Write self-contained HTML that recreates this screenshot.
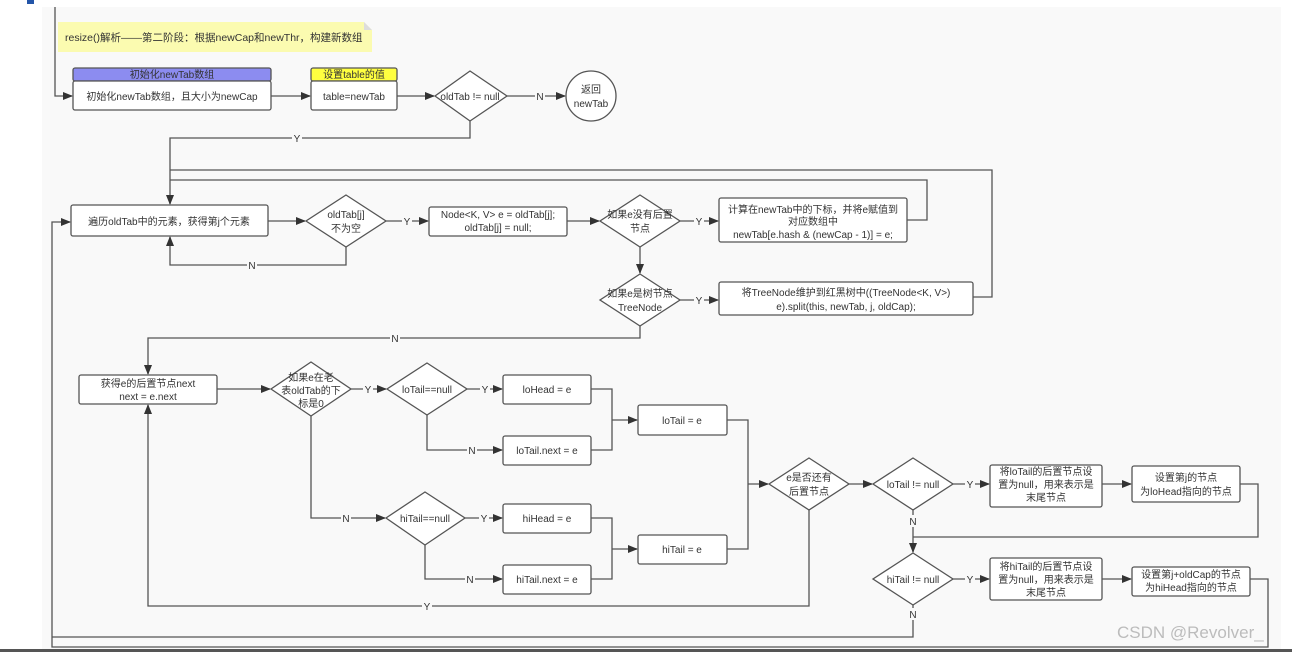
<!DOCTYPE html>
<html><head><meta charset="utf-8"><style>
html,body{margin:0;padding:0;background:#fff;width:1292px;height:652px;overflow:hidden}
svg{display:block}
text{font-family:"Liberation Sans","Noto Sans CJK SC",sans-serif;font-size:10px;fill:#333}
</style></head><body>
<svg width="1292" height="652" viewBox="0 0 1292 652" xmlns="http://www.w3.org/2000/svg">
<defs><marker id="a" markerWidth="10" markerHeight="8" refX="9" refY="4" orient="auto" markerUnits="userSpaceOnUse"><path d="M0,0 L10,4 L0,8 z" fill="#333"/></marker></defs>
<rect x="0" y="0" width="1292" height="652" fill="#fff"/>
<rect x="42" y="7" width="1239" height="643" fill="#f9f9f9"/>
<rect x="27" y="0" width="7" height="4" fill="#2355a8"/>
<rect x="0" y="649" width="1292" height="3" fill="#555"/>
<g fill="none" stroke="#555" stroke-width="1.3">
<polygon points="58,22 364,22 372,30 372,52 58,52" fill="#fbfbb0" stroke="none"/>
<polygon points="364,22 372,30 364,30" fill="#ddd" stroke="none"/>
<polyline points="55,7 55,96 72,96" marker-end="url(#a)"/>
<rect x="73" y="68" width="198" height="13" fill="#8c8cf0" rx="2"/>
<rect x="73" y="81" width="198" height="29" fill="#fff" rx="2"/>
<line x1="271" y1="96" x2="310" y2="96" marker-end="url(#a)"/>
<rect x="311" y="68" width="86" height="13" fill="#ffff40" rx="2"/>
<rect x="311" y="81" width="86" height="29" fill="#fff" rx="2"/>
<line x1="397" y1="96" x2="434" y2="96" marker-end="url(#a)"/>
<polygon points="470,71 507,96 470,121 435,96" fill="#fff"/>
<line x1="507" y1="96" x2="565" y2="96" marker-end="url(#a)"/>
<circle cx="591" cy="96" r="25" fill="#fff"/>
<polyline points="470,121 470,138 170,138 170,204" marker-end="url(#a)"/>
<polyline points="973,297 992,297 992,170 170,170"/>
<polyline points="907,220 927,220 927,180 170,180"/>
<rect x="71" y="205" width="197" height="31" fill="#fff" rx="2"/>
<line x1="268" y1="221" x2="305" y2="221" marker-end="url(#a)"/>
<polygon points="346,195 386,221 346,247 306,221" fill="#fff"/>
<polyline points="346,247 346,265 170,265 170,237" marker-end="url(#a)"/>
<line x1="386" y1="221" x2="428" y2="221" marker-end="url(#a)"/>
<rect x="429" y="207" width="138" height="29" fill="#fff" rx="2"/>
<line x1="567" y1="221" x2="599" y2="221" marker-end="url(#a)"/>
<polygon points="640,195 680,221 640,247 600,221" fill="#fff"/>
<line x1="680" y1="221" x2="718" y2="221" marker-end="url(#a)"/>
<rect x="719" y="198" width="188" height="44" fill="#fff" rx="2"/>
<line x1="640" y1="247" x2="640" y2="273" marker-end="url(#a)"/>
<polygon points="640,274 680,300 640,326 600,300" fill="#fff"/>
<line x1="680" y1="300" x2="718" y2="300" marker-end="url(#a)"/>
<rect x="719" y="282" width="254" height="33" fill="#fff" rx="2"/>
<polyline points="640,326 640,338 148,338 148,374" marker-end="url(#a)"/>
<rect x="79" y="375" width="138" height="29" fill="#fff" rx="2"/>
<line x1="217" y1="389" x2="270" y2="389" marker-end="url(#a)"/>
<polygon points="311,362 351,389 311,416 271,389" fill="#fff"/>
<line x1="351" y1="389" x2="386" y2="389" marker-end="url(#a)"/>
<polygon points="427,363 467,389 427,415 387,389" fill="#fff"/>
<line x1="467" y1="389" x2="502" y2="389" marker-end="url(#a)"/>
<rect x="503" y="375" width="88" height="29" fill="#fff" rx="2"/>
<polyline points="427,415 427,450 502,450" marker-end="url(#a)"/>
<rect x="503" y="436" width="88" height="29" fill="#fff" rx="2"/>
<polyline points="591,389 612,389 612,450 591,450"/>
<line x1="612" y1="420" x2="637" y2="420" marker-end="url(#a)"/>
<rect x="638" y="405" width="89" height="30" fill="#fff" rx="2"/>
<polyline points="311,416 311,518 385,518" marker-end="url(#a)"/>
<polygon points="425,492 465,518 425,545 386,518" fill="#fff"/>
<line x1="465" y1="518" x2="502" y2="518" marker-end="url(#a)"/>
<rect x="503" y="504" width="88" height="29" fill="#fff" rx="2"/>
<polyline points="425,545 425,579 502,579" marker-end="url(#a)"/>
<rect x="503" y="565" width="88" height="29" fill="#fff" rx="2"/>
<polyline points="591,518 612,518 612,579 591,579"/>
<line x1="612" y1="549" x2="637" y2="549" marker-end="url(#a)"/>
<rect x="638" y="535" width="89" height="29" fill="#fff" rx="2"/>
<polyline points="727,420 748,420 748,549 727,549"/>
<line x1="748" y1="484" x2="768" y2="484" marker-end="url(#a)"/>
<polygon points="809,458 849,484 809,510 769,484" fill="#fff"/>
<polyline points="809,510 809,606 148,606 148,405" marker-end="url(#a)"/>
<line x1="849" y1="484" x2="872" y2="484" marker-end="url(#a)"/>
<polygon points="913,458 953,484 913,510 873,484" fill="#fff"/>
<line x1="953" y1="484" x2="989" y2="484" marker-end="url(#a)"/>
<rect x="990" y="465" width="112" height="42" fill="#fff" rx="2"/>
<line x1="1102" y1="484" x2="1131" y2="484" marker-end="url(#a)"/>
<rect x="1132" y="466" width="108" height="36" fill="#fff" rx="2"/>
<polyline points="1240,484 1258,484 1258,537 913,537"/>
<line x1="913" y1="510" x2="913" y2="552" marker-end="url(#a)"/>
<polygon points="913,553 953,579 913,605 873,579" fill="#fff"/>
<line x1="953" y1="579" x2="989" y2="579" marker-end="url(#a)"/>
<rect x="990" y="558" width="112" height="42" fill="#fff" rx="2"/>
<line x1="1102" y1="579" x2="1131" y2="579" marker-end="url(#a)"/>
<rect x="1132" y="567" width="118" height="29" fill="#fff" rx="2"/>
<polyline points="1250,579 1268,579 1268,647 52,647 52,222 70,222" marker-end="url(#a)"/>
<polyline points="913,605 913,637 52,637"/>
</g>
<g text-anchor="middle">
<text x="65" y="41" text-anchor="start" style="font-size:10.5px">resize()解析——第二阶段：根据newCap和newThr，构建新数组</text>
<text x="172" y="78">初始化newTab数组</text>
<text x="172" y="100">初始化newTab数组，且大小为newCap</text>
<text x="354" y="78">设置table的值</text>
<text x="354" y="100">table=newTab</text>
<text x="470" y="100">oldTab != null</text>
<rect x="535" y="90" width="10" height="12" fill="#f9f9f9"/><text x="540" y="100">N</text>
<text x="591" y="93">返回</text><text x="591" y="107">newTab</text>
<rect x="292" y="132" width="10" height="12" fill="#f9f9f9"/><text x="297" y="142">Y</text>
<text x="169" y="225">遍历oldTab中的元素，获得第j个元素</text>
<text x="346" y="218">oldTab[j]</text><text x="346" y="232">不为空</text>
<rect x="247" y="259" width="10" height="12" fill="#f9f9f9"/><text x="252" y="269">N</text>
<rect x="402" y="215" width="10" height="12" fill="#f9f9f9"/><text x="407" y="225">Y</text>
<text x="498" y="218">Node&lt;K, V&gt; e = oldTab[j];</text><text x="498" y="231">oldTab[j] = null;</text>
<text x="640" y="218">如果e没有后置</text><text x="640" y="232">节点</text>
<rect x="694" y="215" width="10" height="12" fill="#f9f9f9"/><text x="699" y="225">Y</text>
<text x="813" y="213">计算在newTab中的下标，并将e赋值到</text><text x="813" y="225">对应数组中</text><text x="813" y="238">newTab[e.hash &amp; (newCap - 1)] = e;</text>
<text x="640" y="297">如果e是树节点</text><text x="640" y="311">TreeNode</text>
<rect x="694" y="294" width="10" height="12" fill="#f9f9f9"/><text x="699" y="304">Y</text>
<text x="846" y="296">将TreeNode维护到红黑树中((TreeNode&lt;K, V&gt;)</text><text x="846" y="310">e).split(this, newTab, j, oldCap);</text>
<rect x="390" y="332" width="10" height="12" fill="#f9f9f9"/><text x="395" y="342">N</text>
<text x="148" y="387">获得e的后置节点next</text><text x="148" y="400">next = e.next</text>
<text x="311" y="381">如果e在老</text><text x="311" y="394">表oldTab的下</text><text x="311" y="407">标是0</text>
<rect x="363" y="383" width="10" height="12" fill="#f9f9f9"/><text x="368" y="393">Y</text>
<text x="427" y="393">loTail==null</text>
<rect x="480" y="383" width="10" height="12" fill="#f9f9f9"/><text x="485" y="393">Y</text>
<text x="547" y="393">loHead = e</text>
<rect x="467" y="444" width="10" height="12" fill="#f9f9f9"/><text x="472" y="454">N</text>
<text x="547" y="454">loTail.next = e</text>
<text x="682" y="424">loTail = e</text>
<rect x="341" y="512" width="10" height="12" fill="#f9f9f9"/><text x="346" y="522">N</text>
<text x="425" y="522">hiTail==null</text>
<rect x="479" y="512" width="10" height="12" fill="#f9f9f9"/><text x="484" y="522">Y</text>
<text x="547" y="522">hiHead = e</text>
<rect x="465" y="573" width="10" height="12" fill="#f9f9f9"/><text x="470" y="583">N</text>
<text x="547" y="583">hiTail.next = e</text>
<text x="682" y="553">hiTail = e</text>
<text x="809" y="481">e是否还有</text><text x="809" y="495">后置节点</text>
<rect x="422" y="600" width="10" height="12" fill="#f9f9f9"/><text x="427" y="610">Y</text>
<text x="913" y="488">loTail != null</text>
<rect x="965" y="478" width="10" height="12" fill="#f9f9f9"/><text x="970" y="488">Y</text>
<text x="1046" y="475">将loTail的后置节点设</text><text x="1046" y="488">置为null，用来表示是</text><text x="1046" y="501">末尾节点</text>
<text x="1186" y="481">设置第j的节点</text><text x="1186" y="495">为loHead指向的节点</text>
<rect x="908" y="515" width="10" height="12" fill="#f9f9f9"/><text x="913" y="525">N</text>
<text x="913" y="583">hiTail != null</text>
<rect x="965" y="573" width="10" height="12" fill="#f9f9f9"/><text x="970" y="583">Y</text>
<text x="1046" y="570">将hiTail的后置节点设</text><text x="1046" y="583">置为null，用来表示是</text><text x="1046" y="596">末尾节点</text>
<text x="1191" y="578">设置第j+oldCap的节点</text><text x="1191" y="591">为hiHead指向的节点</text>
<rect x="908" y="608" width="10" height="12" fill="#f9f9f9"/><text x="913" y="618">N</text>
</g>
<text x="1117" y="638" style="font-size:17px;fill:#bcbcbc">CSDN @Revolver_</text>
</svg>
</body></html>
